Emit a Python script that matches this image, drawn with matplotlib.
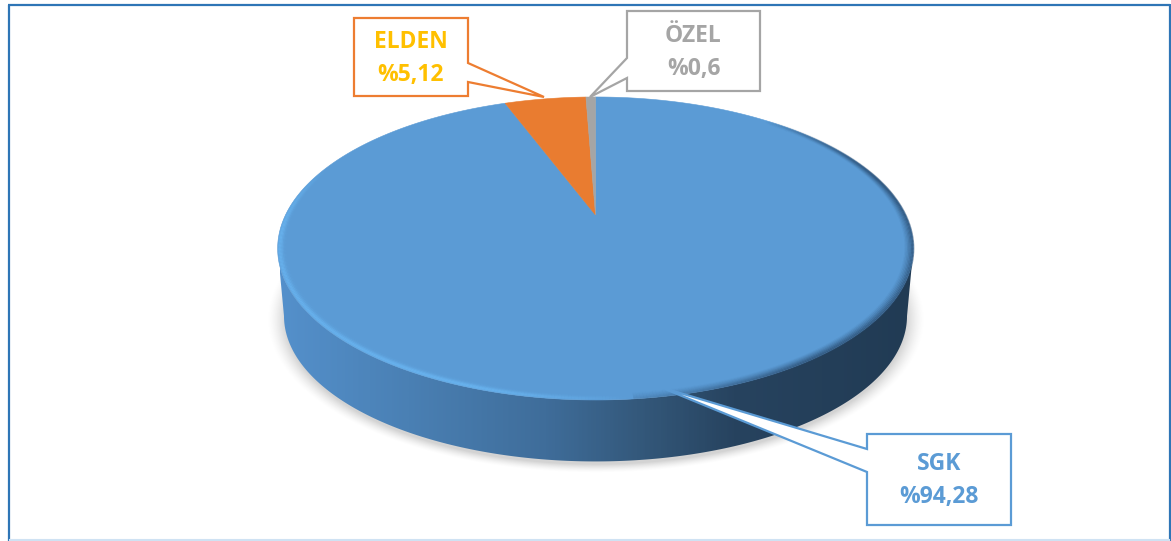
import numpy as np
import matplotlib
matplotlib.use("Agg")
import matplotlib.pyplot as plt
from matplotlib.collections import LineCollection
from matplotlib.colors import LinearSegmentedColormap, to_rgb
from matplotlib.patches import Polygon

plt.rcParams['font.family'] = ['Open Sans', 'DejaVu Sans']

# data
names = ["SGK", "ELDEN", "ÖZEL"]
shares = [94.28, 5.12, 0.6]
share_labels = ["%94,28", "%5,12", "%0,6"]
slice_colors = ["#5B9BD5", "#E97C30", "#A5A5A5"]
text_colors = ["#5B9BD5", "#FFC000", "#A5A5A5"]
edge_colors = ["#5B9BD5", "#ED7D31", "#A5A5A5"]

# callouts, in pixels: box (left, top, right, bottom) and tail (side x, y1, tip x, tip y, y2)
boxes = [(867, 434, 1011, 525), (354, 18, 468, 96), (627, 11, 760, 91)]
tails = [(867, 449, 660, 387, 472), (468, 63, 544, 97, 82), (627, 58, 590, 97, 78)]

side_stops = [(0.0, "#5490CB"), (0.2, "#4A80B4"), (0.42, "#3F6D9A"), (0.58, "#335779"),
              (0.72, "#27435F"), (1.0, "#213B54")]

# pie tilted with perspective: the apex sits above the middle of the ellipse
CX, APEX_Y = 595.5, 215
K, A_Y, A_X = 0.221, -96.6, 310
DEPTH_Y, BOTTOM_SX, BOTTOM_SY = 67.5, 0.98, 0.96
MID_Y = 248.5


def project(theta, r=1.0):
    # theta in degrees, clockwise from the back of the pie
    t = np.radians(theta)
    u, v = r * np.sin(t), r * np.cos(t)
    w = 1 + K * v
    return CX + A_X * u / w, (A_Y * v + APEX_Y) / w


def project_bottom(theta):
    x, y = project(theta)
    return CX + (x - CX) * BOTTOM_SX, MID_Y + DEPTH_Y + (y - MID_Y) * BOTTOM_SY


fig = plt.figure(figsize=(11.71, 5.41), dpi=100)
ax = fig.add_axes([0, 0, 1, 1])
ax.set_xlim(0, 1171)
ax.set_ylim(541, 0)
ax.axis("off")

# frame
ax.plot([9, 9], [541, 4.5], color="#2E75B6", lw=1.6, zorder=1, solid_capstyle="butt")
ax.plot([8, 1170], [4.5, 4.5], color="#2E75B6", lw=1.6, zorder=1, solid_capstyle="butt")
ax.plot([1169.5, 1169.5], [4, 541], color="#2E75B6", lw=1.6, zorder=1, solid_capstyle="butt")
ax.plot([10, 1169], [540.3, 540.3], color="#CFE2F3", lw=1.5, zorder=1)

# soft shadow under the pie
gx, gy = np.meshgrid(np.arange(240, 950), np.arange(200, 500))
rad = np.hypot((gx - CX) / (BOTTOM_SX * 318), (gy - (MID_Y + DEPTH_Y + 3)) / (BOTTOM_SY * 151.5))
shadow = np.zeros(gx.shape + (4,))
shadow[..., :3] = 0.55
shadow[..., 3] = np.clip((1.055 - rad) / 0.06, 0, 1) ** 1.5 * 0.38
ax.imshow(shadow, extent=(240, 950, 500, 200), aspect="auto", zorder=2, interpolation="bilinear")

# side wall with its left to right gradient
front = np.linspace(90 + 12.8, 270 - 12.8, 200)
tx, ty = project(front)
bx, by = project_bottom(front)
wall = Polygon(np.r_[np.c_[tx, ty], np.c_[bx, by][::-1]], closed=True, transform=ax.transData, fc="none", ec="none")
ax.add_patch(wall)
side_cmap = LinearSegmentedColormap.from_list("side", side_stops)
im = ax.imshow(np.linspace(0, 1, 400)[None, :], cmap=side_cmap, vmin=0, vmax=1, aspect="auto",
               extent=(280, 912, 470, 230), zorder=3)
im.set_clip_path(wall)
ax.set_xlim(0, 1171)
ax.set_ylim(541, 0)

# slices, counted anticlockwise from the back so SGK ends at the top
ends = np.cumsum(shares[::-1])[::-1] * 3.6
starts = np.r_[ends[1:], 0.0]
for share, a0, a1, col in zip(shares, starts, ends, slice_colors):
    th = -np.linspace(a0, a1, max(3, int(share * 8)))
    x, y = project(th)
    apex = project(0.0, 0.0)
    ax.add_patch(Polygon(np.r_[[apex], np.c_[x, y]], closed=True, fc=col, ec=col, lw=0.4, zorder=4))

# bevel on the rim: light on the front left, soft dark on the right
rim = np.linspace(0, 360, 721)
seg_a = rim[:-1]
hi = np.clip((58 - np.abs(seg_a - 232)) / 24, 0, 1)
lo = np.clip((70 - np.abs(seg_a - 110)) / 35, 0, 1)
for r, hi_a, lo_a in [(1.0, 0.0, 0.6), (0.996, 0.7, 0.55), (0.992, 0.75, 0.42), (0.988, 0.5, 0.3),
                      (0.984, 0.25, 0.2), (0.98, 0.1, 0.12), (0.976, 0.05, 0.06)]:
    x, y = project(rim, r)
    pts = np.c_[x, y]
    segs = np.stack([pts[:-1], pts[1:]], axis=1)
    cols = np.zeros((len(segs), 4))
    cols[:, :3] = to_rgb("#2A4C70")
    cols[hi > 0, :3] = to_rgb("#69B4F0")
    cols[:, 3] = np.where(hi > 0, hi * hi_a, lo * lo_a)
    ax.add_collection(LineCollection(segs, colors=cols, linewidths=1.4, zorder=5, capstyle="butt"))

# callouts and their labels
for name, label, box, tail, ec, tc in zip(names, share_labels, boxes, tails, edge_colors, text_colors):
    left, top, right, bottom = box
    side_x, y1, tip_x, tip_y, y2 = tail
    if side_x == left:
        pts = [(left, top), (right, top), (right, bottom), (left, bottom), (left, y2), (tip_x, tip_y), (left, y1)]
    else:
        pts = [(left, top), (right, top), (right, y1), (tip_x, tip_y), (right, y2), (right, bottom), (left, bottom)]
    ax.add_patch(Polygon(pts, closed=True, fc="white", ec=ec, lw=1.6, joinstyle="miter", zorder=6))
    mid_x = (left + right) / 2
    mid_y = (top + bottom) / 2 + 1.5
    ax.text(mid_x, mid_y - 16.5, name, color=tc, fontsize=16.5, fontweight="bold", ha="center", va="center", zorder=7)
    ax.text(mid_x, mid_y + 16.5, label, color=tc, fontsize=16.5, fontweight="bold", ha="center", va="center", zorder=7)

fig.savefig("out.png", dpi=100, facecolor="white")
